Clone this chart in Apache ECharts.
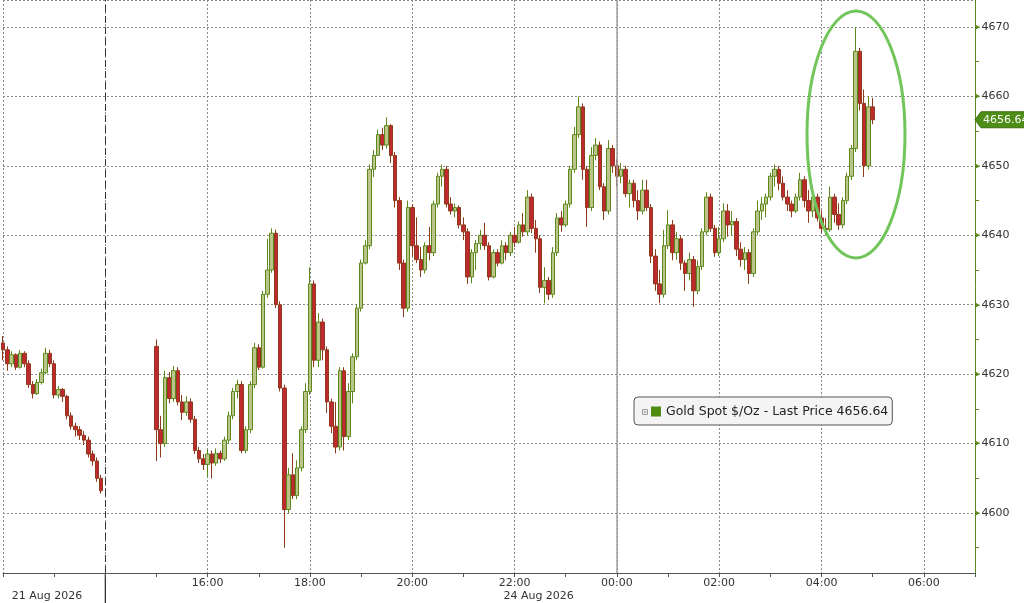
<!DOCTYPE html>
<html><head><meta charset="utf-8">
<script src="https://cdn.jsdelivr.net/npm/echarts@6/dist/echarts.min.js"></script>
<style>html,body{margin:0;padding:0;background:#fff}#c{width:1024px;height:603px}</style>
</head><body><div id="c"></div>
<script>
// ---- data ----
const seriesName = 'Gold Spot $/Oz';
const lastPrice = 4656.64;
const barMinutes = 5;
const friStartHour = 12;   // 21 Aug 2026 12:00
const monStartHour = 15;   // 24 Aug 2026 15:00 (hours past 24 = 25 Aug)
const friOHLC = [ // [open, close, low, high]
[4624.5,4623.5,4622.0,4625.5],[4623.5,4621.5,4620.5,4624.0],[4621.5,4622.8,4621.0,4623.3],[4622.8,4621.0,4620.6,4623.0],
[4621.0,4623.0,4620.8,4623.5],[4623.0,4621.5,4621.0,4623.3],[4621.5,4618.5,4618.0,4622.0],[4618.5,4617.2,4616.5,4619.0],
[4617.2,4618.8,4617.0,4619.3],[4618.8,4620.2,4618.5,4620.8],[4620.2,4623.0,4620.0,4623.8],[4623.0,4621.5,4621.0,4623.5],
[4621.5,4617.0,4616.5,4622.0],[4617.0,4617.8,4616.5,4618.3],[4617.8,4616.8,4616.0,4618.0],[4616.8,4614.0,4613.5,4617.0],
[4614.0,4612.5,4612.0,4614.5],[4612.5,4612.0,4611.0,4613.0],[4612.0,4611.2,4610.5,4612.5],[4611.2,4610.5,4609.8,4611.8],
[4610.5,4608.5,4608.0,4611.0],[4608.5,4607.5,4606.8,4609.0],[4607.5,4605.0,4604.5,4608.0],[4605.0,4603.2,4602.8,4605.5]
];
const monOHLC = [
[4624.0,4612.0,4607.5,4625.0],[4612.0,4610.0,4608.0,4614.0],[4610.0,4619.5,4609.5,4620.5],[4619.5,4616.5,4615.8,4620.3],
[4616.5,4620.5,4616.0,4621.2],[4620.5,4616.0,4615.5,4621.0],[4616.0,4614.5,4613.4,4617.0],[4614.5,4616.0,4614.0,4616.8],
[4616.0,4613.5,4613.0,4616.5],[4613.5,4609.0,4608.5,4614.0],[4609.0,4607.8,4607.2,4609.5],[4607.8,4607.0,4606.2,4608.5],
[4607.0,4608.5,4605.2,4609.2],[4608.5,4607.2,4605.0,4609.0],[4607.2,4608.6,4606.8,4609.3],[4608.6,4607.8,4607.2,4609.0],
[4607.8,4610.5,4607.5,4611.0],[4610.5,4614.0,4610.0,4614.6],[4614.0,4617.5,4613.5,4618.0],[4617.5,4618.5,4616.5,4619.2],
[4618.5,4609.0,4608.6,4619.0],[4609.0,4612.0,4608.6,4612.5],[4612.0,4618.5,4611.5,4619.0],[4618.5,4623.8,4618.0,4624.5],
[4623.8,4621.0,4620.6,4624.3],[4621.0,4631.5,4620.8,4632.0],[4631.5,4635.0,4631.0,4639.5],[4635.0,4640.3,4634.6,4641.0],
[4640.3,4630.0,4629.5,4640.8],[4630.0,4618.0,4617.5,4630.5],[4618.0,4600.5,4595.0,4618.5],[4600.5,4605.5,4600.0,4606.5],
[4605.5,4602.5,4602.0,4608.6],[4602.5,4606.5,4602.0,4607.6],[4606.5,4612.0,4606.0,4612.5],[4612.0,4617.5,4611.5,4618.7],
[4617.5,4633.0,4617.0,4635.4],[4633.0,4622.0,4621.0,4633.5],[4622.0,4627.5,4621.0,4628.8],[4627.5,4623.5,4622.0,4628.0],
[4623.5,4616.0,4614.4,4624.0],[4616.0,4612.5,4611.5,4616.5],[4612.5,4609.5,4608.6,4616.0],[4609.5,4620.5,4609.0,4621.0],
[4620.5,4611.0,4609.0,4621.0],[4611.0,4617.5,4610.5,4618.7],[4617.5,4622.5,4615.8,4623.0],[4622.5,4629.5,4622.0,4630.0],
[4629.5,4636.0,4629.0,4636.5],[4636.0,4638.5,4635.8,4639.3],[4638.5,4649.5,4638.0,4650.2],[4649.5,4651.5,4648.4,4652.3],
[4651.5,4654.5,4651.5,4655.2],[4654.5,4653.0,4652.3,4655.5],[4653.0,4655.8,4652.5,4657.0],[4655.8,4651.5,4650.4,4656.0],
[4651.5,4645.0,4644.0,4652.0],[4645.0,4636.0,4635.0,4645.5],[4636.0,4629.5,4628.2,4636.5],[4629.5,4644.0,4629.0,4645.0],
[4644.0,4638.5,4637.0,4644.5],[4638.5,4636.5,4636.0,4642.6],[4636.5,4635.0,4634.0,4638.3],[4635.0,4638.5,4634.5,4639.0],
[4638.5,4637.5,4636.4,4641.2],[4637.5,4644.5,4637.0,4645.0],[4644.5,4648.5,4644.0,4649.0],[4648.5,4649.5,4647.0,4650.2],
[4649.5,4644.5,4644.0,4650.0],[4644.5,4643.5,4643.0,4645.5],[4643.5,4644.0,4642.6,4644.6],[4644.0,4641.5,4641.0,4644.3],
[4641.5,4640.5,4639.3,4642.6],[4640.5,4634.0,4633.0,4641.0],[4634.0,4637.5,4633.1,4638.0],[4637.5,4638.8,4635.0,4639.3],
[4638.8,4640.0,4637.9,4640.8],[4640.0,4638.5,4637.9,4641.8],[4638.5,4634.0,4633.5,4639.0],[4634.0,4637.5,4633.8,4638.0],
[4637.5,4636.0,4635.5,4638.0],[4636.0,4638.5,4635.8,4639.3],[4638.5,4637.5,4636.4,4639.0],[4637.5,4640.0,4637.0,4640.5],
[4640.0,4639.0,4638.3,4641.2],[4639.0,4641.5,4638.8,4642.0],[4641.5,4640.5,4639.8,4643.2],[4640.5,4645.5,4640.0,4646.5],
[4645.5,4641.0,4640.3,4646.0],[4641.0,4639.5,4637.5,4642.2],[4639.5,4632.5,4631.7,4640.0],[4632.5,4633.5,4630.2,4635.4],
[4633.5,4631.5,4630.7,4634.0],[4631.5,4637.5,4631.0,4638.3],[4637.5,4642.5,4637.0,4643.2],[4642.5,4641.5,4640.5,4643.5],
[4641.5,4644.5,4641.2,4645.0],[4644.5,4649.5,4644.0,4650.0],[4649.5,4654.5,4649.0,4655.6],[4654.5,4658.5,4654.0,4660.0],
[4658.5,4649.5,4648.0,4659.0],[4649.5,4644.0,4641.2,4650.0],[4644.0,4651.5,4643.5,4652.7],[4651.5,4653.0,4650.8,4654.0],
[4653.0,4647.0,4646.5,4653.5],[4647.0,4643.5,4642.2,4647.5],[4643.5,4652.5,4643.0,4653.7],[4652.5,4650.0,4649.0,4653.0],
[4650.0,4648.5,4647.0,4651.0],[4648.5,4649.5,4647.5,4650.4],[4649.5,4646.0,4645.5,4650.0],[4646.0,4647.5,4644.0,4648.0],
[4647.5,4645.0,4644.0,4648.0],[4645.0,4643.5,4642.2,4646.5],[4643.5,4646.5,4643.0,4648.0],[4646.5,4644.0,4643.5,4648.0],
[4644.0,4637.0,4636.0,4644.5],[4637.0,4633.0,4632.0,4638.0],[4633.0,4631.5,4630.2,4635.0],[4631.5,4638.5,4631.0,4640.8],
[4638.5,4641.5,4638.0,4643.6],[4641.5,4637.5,4636.4,4642.2],[4637.5,4639.5,4636.5,4640.5],[4639.5,4636.0,4635.0,4640.0],
[4636.0,4634.5,4632.0,4636.4],[4634.5,4636.5,4633.5,4637.5],[4636.5,4632.0,4629.7,4637.0],[4632.0,4635.5,4631.5,4636.4],
[4635.5,4640.5,4635.0,4641.0],[4640.5,4645.5,4640.0,4646.2],[4645.5,4641.0,4640.5,4646.0],[4641.0,4637.5,4636.9,4641.5],
[4637.5,4639.5,4637.0,4641.2],[4639.5,4643.5,4639.0,4644.6],[4643.5,4641.5,4639.8,4644.5],[4641.5,4642.0,4640.0,4643.5],
[4642.0,4638.0,4637.0,4642.5],[4638.0,4636.5,4635.5,4639.0],[4636.5,4637.5,4635.0,4638.3],[4637.5,4634.5,4633.0,4638.0],
[4634.5,4640.5,4634.0,4641.0],[4640.5,4643.5,4640.0,4645.0],[4643.5,4644.5,4642.2,4645.5],[4644.5,4645.5,4642.6,4646.0],
[4645.5,4648.5,4645.0,4649.0],[4648.5,4649.5,4647.0,4650.2],[4649.5,4647.5,4646.5,4650.0],[4647.5,4645.5,4645.0,4648.5],
[4645.5,4644.5,4643.5,4646.5],[4644.5,4643.5,4642.6,4645.0],[4643.5,4645.5,4643.2,4646.0],[4645.5,4648.0,4645.0,4649.0],
[4648.0,4645.0,4644.0,4648.5],[4645.0,4643.5,4641.8,4646.5],[4643.5,4645.5,4642.6,4647.0],[4645.5,4642.5,4642.0,4646.0],
[4642.5,4641.0,4640.3,4643.6],[4641.0,4640.8,4640.0,4642.5],[4640.8,4645.5,4640.5,4647.0],[4645.5,4643.0,4641.8,4646.0],
[4643.0,4641.5,4640.8,4644.6],[4641.5,4645.0,4641.0,4645.5],[4645.0,4648.5,4644.5,4649.0],[4648.5,4652.5,4648.0,4653.0],
[4652.5,4666.5,4652.0,4670.0],[4666.5,4659.0,4658.0,4667.0],[4659.0,4650.0,4648.4,4661.0],[4650.0,4658.5,4649.5,4660.0],
[4658.5,4656.64,4656.0,4659.8]
];
const hourTicksMin = 12, hourTicksMax = 31;
const labelHours = [16, 18, 20, 22, 24, 26, 28, 30];
const dateLabels = [{text: '21 Aug 2026', hour: 12.86}, {text: '24 Aug 2026', hour: 22.47}];
const sessionBreakHour = 14;
const dayBreakHour = 24;

// ---- build ----
const candles = [];
friOHLC.forEach((d, i) => candles.push([friStartHour + i * barMinutes / 60, d[0], d[1], d[2], d[3]]));
monOHLC.forEach((d, i) => candles.push([monStartHour + i * barMinutes / 60, d[0], d[1], d[2], d[3]]));

const FONT = 'DejaVu Sans';
const chart = echarts.init(document.getElementById('c'));
const gridTop = 0, gridBottom = 30, gridLeft = 2, gridRight = 49;
// y range chosen so 4600..4670 fall where the reference shows them
const yMin = 4591.36, yMax = 4673.89;

chart.setOption({
  animation: false,
  backgroundColor: '#fff',
  grid: {left: gridLeft, right: gridRight, top: gridTop, bottom: gridBottom},
  legend: {
    left: 634, top: 397,
    padding: [8, 4, 7, 17],
    backgroundColor: '#f4f4f4', borderColor: '#555', borderWidth: 1, borderRadius: 4,
    itemWidth: 10, itemHeight: 10, icon: 'rect',
    data: [{name: seriesName, itemStyle: {color: '#4f8d12', borderWidth: 0}}],
    formatter: n => n + ' - Last Price ' + lastPrice.toFixed(2),
    textStyle: {fontFamily: FONT, fontSize: 12.5, color: '#222'},
    selectedMode: false
  },
  xAxis: [{
    type: 'value', min: hourTicksMin, max: hourTicksMax, interval: 1,
    axisLine: {lineStyle: {color: '#555'}},
    axisTick: {length: 4, lineStyle: {color: '#555'}},
    axisLabel: {
      margin: 5, color: '#333', fontFamily: FONT, fontSize: 11,
      formatter: v => labelHours.indexOf(v) >= 0 ? String(v % 24).padStart(2, '0') + ':00' : ''
    },
    splitLine: {show: false}
  }, {
    type: 'value', min: hourTicksMin, max: hourTicksMax, interval: 2, position: 'bottom',
    axisLine: {show: false}, axisTick: {show: false}, axisLabel: {show: false},
    splitLine: {show: true, lineStyle: {color: '#8a8a8a', type: [2, 2], width: 1}}
  }],
  yAxis: {
    type: 'value', position: 'right', min: yMin, max: yMax, minInterval: 10, maxInterval: 10,
    axisLine: {show: true, lineStyle: {color: '#5e8a1c'}},
    axisTick: {show: false},
    minorTick: {show: true, splitNumber: 2, length: 4, lineStyle: {color: '#5e8a1c'}},
    axisLabel: {
      showMinLabel: false, showMaxLabel: false, margin: 0,
      formatter: v => '{a|▶}{b|' + v + '}',
      rich: {
        a: {color: '#5e8a1c', fontSize: 7, fontFamily: FONT, padding: [0, 1, 0, 0]},
        b: {color: '#333', fontSize: 11, fontFamily: FONT}
      }
    },
    splitLine: {show: true, lineStyle: {color: '#8a8a8a', type: [2, 2], width: 1}}
  },
  series: [{
    name: seriesName, type: 'candlestick', xAxisIndex: 0,
    barWidth: 4,
    encode: {x: 0, y: [1, 2, 3, 4]},
    data: candles,
    itemStyle: {color: '#bcc48c', borderColor: '#5c8a1a', color0: '#bf2a2e', borderColor0: '#8e3a1c', borderWidth: 1},
    markLine: {
      symbol: 'none', silent: true, label: {show: false},
      data: [
        {xAxis: sessionBreakHour, lineStyle: {color: '#333', type: [7, 4], width: 1}},
        {xAxis: dayBreakHour, lineStyle: {color: '#a0a0a0', type: 'solid', width: 1.5}}
      ]
    }
  }]
});

// annotations positioned with the chart's own scales
const xBreak = chart.convertToPixel({xAxisIndex: 0}, sessionBreakHour);
const yLast = chart.convertToPixel({yAxisIndex: 0}, lastPrice);
const yAxisX = chart.convertToPixel({xAxisIndex: 0}, hourTicksMax);
const axisY = 603 - gridBottom;
const graphics = [
  {type: 'line', shape: {x1: xBreak, y1: axisY, x2: xBreak, y2: 603}, style: {stroke: '#222', lineWidth: 1.2}},
  {type: 'ellipse', shape: {cx: 856, cy: 134.5, rx: 49, ry: 123.5}, style: {fill: null, stroke: '#72c55a', lineWidth: 3}, z: 10},
  {type: 'polygon', shape: {points: [[yAxisX, yLast], [yAxisX + 6, yLast - 8], [1030, yLast - 8], [1030, yLast + 8], [yAxisX + 6, yLast + 8]]},
   style: {fill: '#4e8d16', stroke: '#3d6e10', lineWidth: 1}, z: 10},
  {type: 'text', x: yAxisX + 8, y: yLast, style: {text: lastPrice.toFixed(2), fill: '#fff', font: '11px ' + FONT, verticalAlign: 'middle'}, z: 11},
  {type: 'rect', shape: {x: 642.5, y: 409.5, width: 5, height: 5}, style: {fill: '#fff', stroke: '#999', lineWidth: 1}, z: 20},
  {type: 'line', shape: {x1: 643.5, y1: 412, x2: 646.5, y2: 412}, style: {stroke: '#999', lineWidth: 1}, z: 21},
  {type: 'line', shape: {x1: 645, y1: 410.5, x2: 645, y2: 413.5}, style: {stroke: '#999', lineWidth: 1}, z: 21}
];
dateLabels.forEach(d => graphics.push({
  type: 'text', x: chart.convertToPixel({xAxisIndex: 0}, d.hour), y: 591,
  style: {text: d.text, fill: '#333', font: '11px ' + FONT, align: 'center'}
}));
chart.setOption({graphic: graphics});
</script></body></html>
